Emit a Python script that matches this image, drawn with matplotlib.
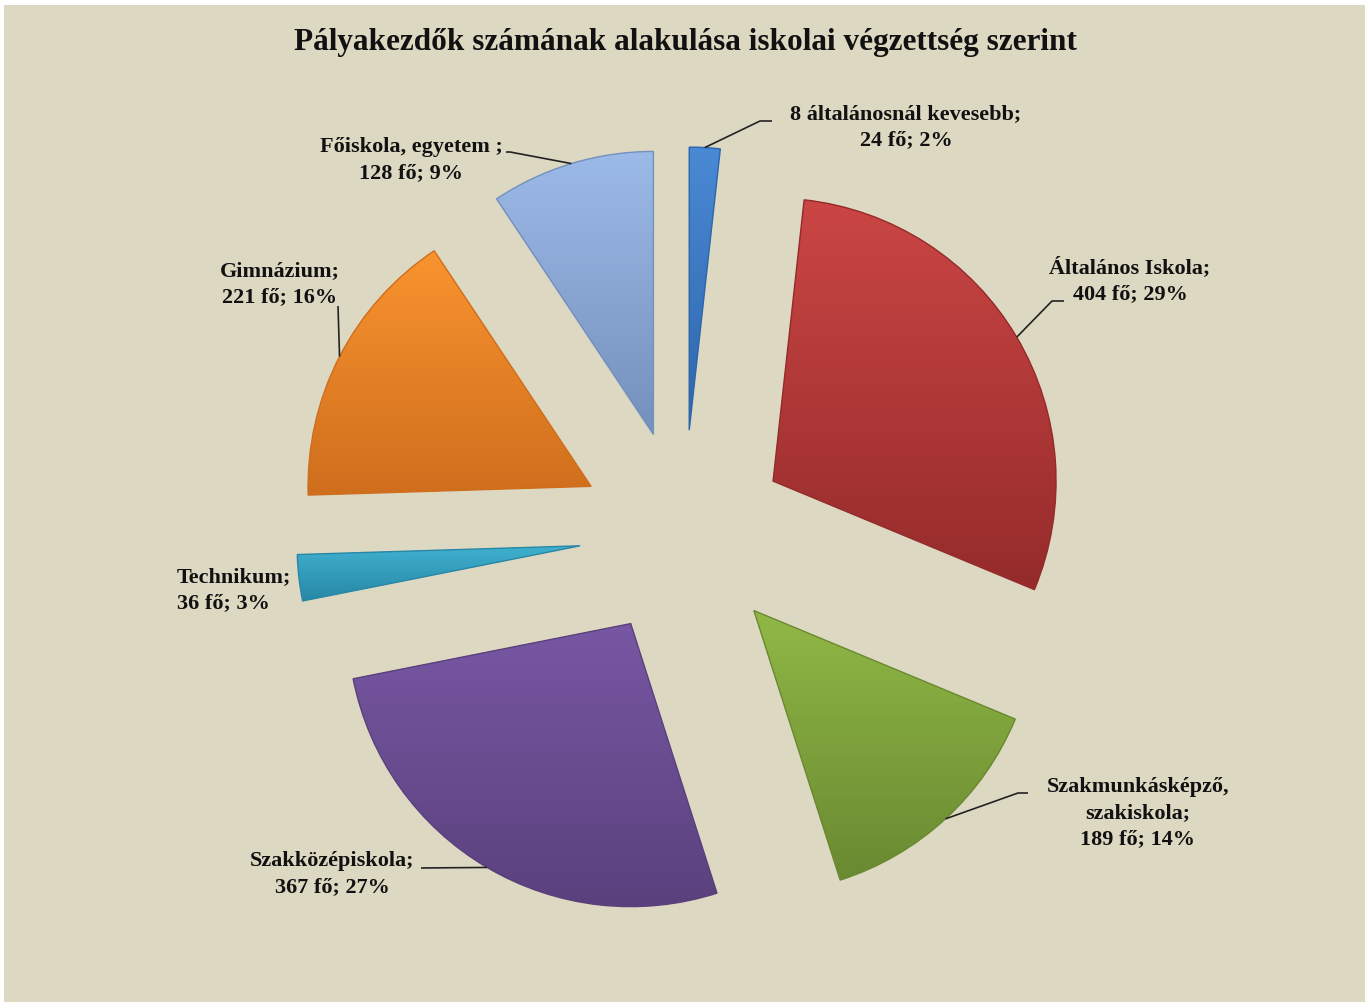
import numpy as np
import matplotlib
matplotlib.use("Agg")
import matplotlib.pyplot as plt
from matplotlib.patches import Rectangle, PathPatch
from matplotlib.colors import LinearSegmentedColormap

# ---- data ----
categories = ["8 általánosnál kevesebb", "Általános Iskola", "Szakmunkásképző,\nszakiskola",
              "Szakközépiskola", "Technikum", "Gimnázium", "Főiskola, egyetem "]
counts = [24, 404, 189, 367, 36, 221, 128]
percents = [2, 29, 14, 27, 3, 16, 9]
title = "Pályakezdők számának alakulása iskolai végzettség szerint"

top_colors = ["#4A89D4", "#CA4644", "#90B846", "#7857A3", "#40B1D0", "#F9942F", "#9CBAE8"]
bot_colors = ["#2D66AB", "#952B2B", "#6A8931", "#5A417D", "#2887A6", "#CF6E1D", "#7490BD"]

W, H = 1370, 1003
fig = plt.figure(figsize=(W / 100, H / 100), dpi=100, facecolor="white")
ax = fig.add_axes([0, 0, 1, 1])
ax.set_facecolor("none")
ax.axis("off")

def py(y):  # pixel row -> data y
    return H - y

BG = "#DDD8C2"
ax.add_patch(Rectangle((4, 0), 1361, H - 6, facecolor=BG, edgecolor="none", zorder=0))

R = 283
C = (683.5, py(535))
wedges, _ = ax.pie(counts, colors=top_colors, startangle=90, counterclock=False,
                   radius=R, center=C, explode=[104] * len(counts),
                   wedgeprops=dict(linewidth=0), frame=False)

grad = np.linspace(0, 1, 256).reshape(-1, 1)
for w, c1, c2 in zip(wedges, top_colors, bot_colors):
    w.set_zorder(2)
    w.set_facecolor(c2)
    ext = w.get_path().get_extents()
    cmap = LinearSegmentedColormap.from_list("g", [c1, c2])
    im = ax.imshow(grad, cmap=cmap, extent=[ext.x0, ext.x1, ext.y0, ext.y1],
                   origin="upper", aspect="auto", zorder=3, interpolation="bilinear")
    im.set_clip_path(w)
    ax.add_patch(PathPatch(w.get_path(), fill=False, edgecolor=c2,
                           linewidth=1.0, zorder=4))

label_font = dict(family=["Liberation Serif", "DejaVu Serif"], fontweight="bold",
                  fontsize=16, color="#111111")

labels = [f"{c};\n{n} fő; {p}%" for c, n, p in zip(categories, counts, percents)]

# label text anchor (px), alignment, leader elbow points (px)
label_pos = [(906, 127, "center"), (1130, 281, "center"), (1138, 813, "center"),
             (332, 874, "center"), (177, 590, "left"), (280, 284, "center"),
             (411, 160, "center")]
elbows = [[(760, 122), (772, 122)], [(1052, 302), (1064, 302)],
          [(1018, 794), (1028, 794)], [(421, 869)], None, [(338, 307)],
          [(510, 153), (506, 153)]]

for w, lab, (lx, ly, ha), elb in zip(wedges, labels, label_pos, elbows):
    ax.text(lx, py(ly), lab, ha=ha, va="center", multialignment=ha,
            linespacing=1.4, zorder=6, **label_font)
    if elb is None:
        continue
    mid = np.deg2rad(0.5 * (w.theta1 + w.theta2))
    cx, cy = w.center
    ax_pt = (cx + w.r * np.cos(mid), cy + w.r * np.sin(mid))
    xs = [ax_pt[0]] + [e[0] for e in elb]
    ys = [ax_pt[1]] + [py(e[1]) for e in elb]
    ax.plot(xs, ys, color="#222222", linewidth=1.2, zorder=5, solid_capstyle="butt")

ax.text(685, py(42), title, ha="center", va="center", fontsize=22.5,
        family=["Liberation Serif", "DejaVu Serif"], fontweight="bold", color="#111111", zorder=6)

ax.set_xlim(0, W)
ax.set_ylim(0, H)
ax.set_aspect("auto")
fig.savefig("out.png", dpi=100, facecolor="white")
